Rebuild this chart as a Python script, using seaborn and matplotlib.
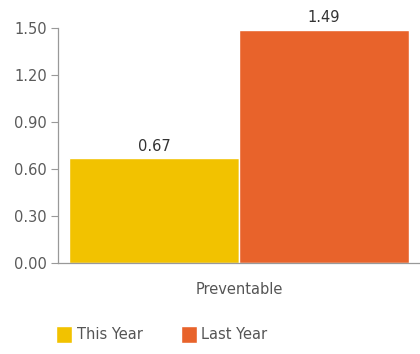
import matplotlib
matplotlib.use("Agg")
import matplotlib.pyplot as plt
import seaborn as sns
import pandas as pd

categories = ["Preventable"]
series = ["This Year", "Last Year"]
this_year = [0.67]
last_year = [1.49]
yticks = [0.0, 0.3, 0.6, 0.9, 1.2, 1.5]
colors = ["#F2C200", "#E8632B"]

df = pd.DataFrame({
    "cat": categories * 2,
    "series": [series[0]] * len(categories) + [series[1]] * len(categories),
    "value": this_year + last_year,
})

sns.set_theme(style="white")
plt.rcParams['font.family'] = ['DejaVu Sans']

fs = 10.5
fig = plt.figure(figsize=(4.2, 3.54), dpi=100)
ax = fig.add_axes([0.138, 0.257, 0.862, 0.664])
sns.barplot(data=df, x="cat", y="value", hue="series", palette=colors,
            saturation=1, width=0.94, ax=ax, legend=False,
            edgecolor="white", linewidth=1)
ax.set_xlim(-0.5, 0.5)
ax.set_ylim(0, 1.5)
ax.set_yticks(yticks)
ax.set_yticklabels([f"{v:.2f}" for v in yticks], color="#5a5a5a", fontsize=fs)
ax.tick_params(axis="y", left=True, length=5, width=0.8, color="#999999", pad=3)
ax.tick_params(axis="x", bottom=False, labelsize=fs, labelcolor="#555555", pad=8)
ax.set_xlabel("")
ax.set_ylabel("")
for s in ["top", "right"]:
    ax.spines[s].set_visible(False)
for s in ["left", "bottom"]:
    ax.spines[s].set_color("#999999")
    ax.spines[s].set_linewidth(0.9)

for cont in ax.containers:
    ax.bar_label(cont, fmt="%.2f", padding=3, fontsize=fs, color="#333333")

from matplotlib.patches import Patch
handles = [Patch(facecolor=c, label=l) for c, l in zip(colors, series)]
fig.legend(handles=handles, loc="center", bbox_to_anchor=(0.385, 0.055), ncol=2,
           frameon=False, fontsize=fs, handlelength=1.1, handleheight=1.5,
           handletextpad=0.3, columnspacing=2.6, labelcolor="#555555")

fig.savefig("out.png", dpi=100)
